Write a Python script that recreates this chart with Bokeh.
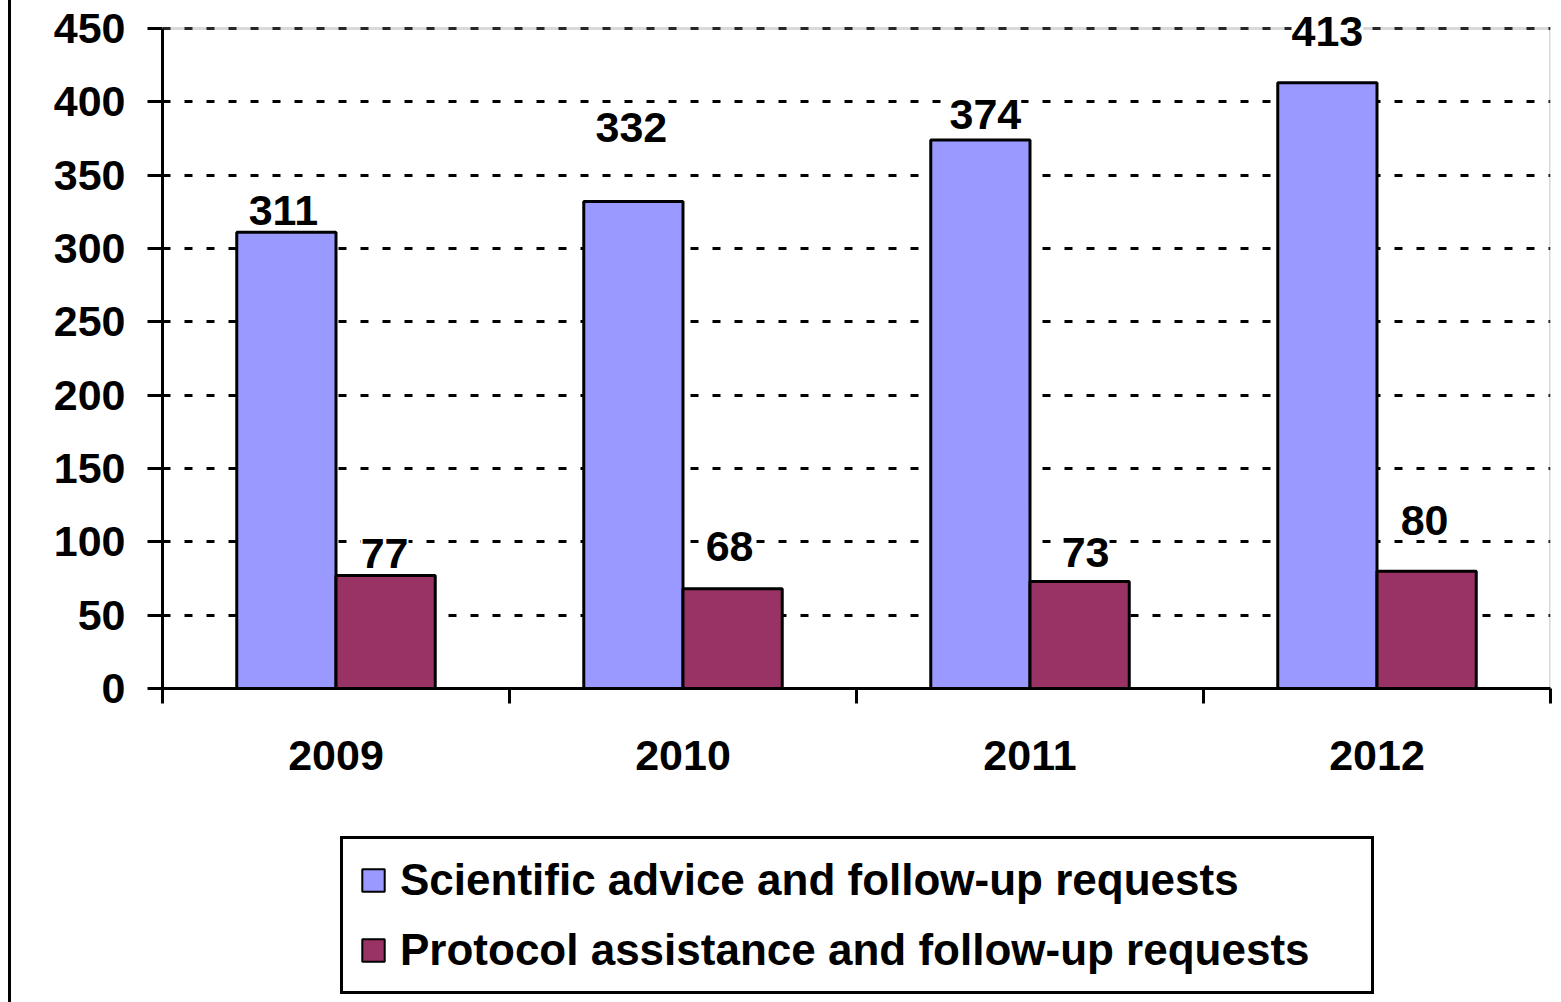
from bokeh.plotting import figure
from bokeh.models import (ColumnDataSource, Range1d, FixedTicker, LabelSet,
                          Legend, LegendItem, Div, BoxAnnotation)
from bokeh.layouts import row, column
from bokeh.transform import dodge
from bokeh.core.properties import value
from bokeh.embed import file_html
from bokeh.resources import INLINE

# ---------------- data ----------------
years = ["2009", "2010", "2011", "2012"]
scientific = [311, 332, 374, 413]
protocol = [77, 68, 73, 80]
series_names = ["Scientific advice and follow-up requests",
                "Protocol assistance and follow-up requests"]
y_ticks = [0, 50, 100, 150, 200, 250, 300, 350, 400, 450]

# label nudges in screen pixels (styling only)
sci_dx = [-3, -2, 5, 0]
sci_dy = [7, 60, 11, 37]
pro_dx = [-1, -3, 6, -2]
pro_dy = [8, 28, 14, 36]

FONT = "Liberation Sans"
BLUE = "#9999FF"
MAROON = "#993366"

# layout (pixels)
EDGE_W = 11
FIG_W = 1561 - EDGE_W
TOTAL_H = 1002
MAIN_H = 800
FRAME_LEFT = 162
FRAME_TOP = 5          # frame top (page px)
AXIS_TOP = 28          # where the top of the value axis sits (page px)
FRAME_BOTTOM = 688

y_max = y_ticks[-1]
y_end = y_max * (FRAME_BOTTOM - FRAME_TOP) / (FRAME_BOTTOM - AXIS_TOP)

centers = [i + 0.5 for i in range(len(years))]
src = ColumnDataSource(dict(
    x=centers, sci=scientific, pro=protocol,
    sci_text=[str(v) for v in scientific], pro_text=[str(v) for v in protocol],
    sci_dx=sci_dx, sci_dy=sci_dy, pro_dx=pro_dx, pro_dy=pro_dy,
))

p = figure(width=FIG_W, height=MAIN_H,
           x_range=Range1d(0, len(years)), y_range=Range1d(0, y_end),
           output_backend="svg", toolbar_location=None,
           min_border_left=FRAME_LEFT - EDGE_W, min_border_right=11,
           min_border_top=FRAME_TOP, min_border_bottom=MAIN_H - FRAME_BOTTOM)

p.background_fill_color = "white"
p.border_fill_color = "white"
p.outline_line_color = None

# plot-area border (grey top/right, under the axes)
plot_box = BoxAnnotation(left=0, right=len(years), bottom=0, top=y_max,
                         fill_alpha=0, line_color="#808080", line_width=3,
                         level="underlay")
p.add_layout(plot_box)

BW = 0.286
colors = [BLUE, MAROON]
value_cols = ["sci", "pro"]
offsets = [-BW / 2, BW / 2]
bars = [p.vbar(x=dodge("x", off), top=col, width=BW, source=src,
               fill_color=c, line_color="black", line_width=3)
        for col, off, c in zip(value_cols, offsets, colors)]

# grid
p.xgrid.visible = False
p.ygrid.ticker = FixedTicker(ticks=y_ticks)
p.ygrid.grid_line_color = "black"
p.ygrid.grid_line_width = 3
p.ygrid.grid_line_dash = "8 14"

# y axis
ya = p.yaxis[0]
ya.ticker = FixedTicker(ticks=y_ticks)
ya.bounds = (0, y_max)
ya.axis_line_color = "black"
ya.axis_line_width = 3
ya.major_tick_out = 15
ya.major_tick_in = 0
ya.major_tick_line_width = 3
ya.minor_tick_line_color = None
ya.major_label_text_font = FONT
ya.major_label_text_font_size = "43px"
ya.major_label_text_font_style = "bold"
ya.major_label_text_color = "black"
ya.major_label_standoff = 22

# x axis
xa = p.xaxis[0]
xa.ticker = FixedTicker(ticks=centers, minor_ticks=list(range(len(years) + 1)))
xa.major_label_overrides = {c: y for c, y in zip(centers, years)}
xa.axis_line_color = "black"
xa.axis_line_width = 3
xa.major_tick_line_color = None
xa.major_tick_out = 0
xa.major_tick_in = 0
xa.minor_tick_out = 15
xa.minor_tick_in = 0
xa.minor_tick_line_width = 3
xa.minor_tick_line_color = "black"
xa.major_label_text_font = FONT
xa.major_label_text_font_size = "43px"
xa.major_label_text_font_style = "bold"
xa.major_label_text_color = "black"
xa.major_label_standoff = 37

# data labels
for col, off, dxc, dyc in [("sci", -BW / 2, "sci_dx", "sci_dy"),
                           ("pro", BW / 2, "pro_dx", "pro_dy")]:
    ls = LabelSet(x=dodge("x", off), y=col, text=col + "_text", source=src,
                  x_offset=dxc, y_offset=dyc,
                  text_align="center", text_baseline="alphabetic",
                  text_font=value(FONT), text_font_size="43px",
                  text_font_style="bold", text_color="black",
                  background_fill_color="white")
    p.add_layout(ls)

# ---------------- legend (own strip below the chart) ----------------
LEG_H = TOTAL_H - MAIN_H
q = figure(width=FIG_W, height=LEG_H, x_range=Range1d(-20, -10), y_range=Range1d(-2, -1),
           x_axis_type=None, y_axis_type=None,
           output_backend="svg", toolbar_location=None,
           min_border=0)
q.outline_line_color = None
q.xgrid.visible = False
q.ygrid.visible = False
q.background_fill_color = "white"
q.border_fill_color = "white"

# hidden proxy renderers that only supply the legend swatches
proxies = [q.vbar(x="x", top=col, width=BW, source=src, fill_color=c,
                  line_color="black", line_width=2, visible=False)
           for col, c in zip(value_cols, colors)]

legend = Legend(items=[LegendItem(label=n, renderers=[r])
                       for n, r in zip(series_names, proxies)],
                location=(340 - FRAME_LEFT, 8), orientation="vertical")
legend.label_text_font = FONT
legend.label_text_font_size = "44px"
legend.label_text_font_style = "bold"
legend.label_text_color = "black"
legend.glyph_width = 28
legend.glyph_height = 28
legend.label_standoff = 13
legend.label_width = 955
legend.label_height = 50
legend.spacing = 20
legend.padding = 16
legend.margin = 0
legend.border_line_color = "black"
legend.border_line_alpha = 1.0
legend.border_line_width = 3
legend.background_fill_color = "white"
legend.background_fill_alpha = 1.0
q.add_layout(legend)

edge = Div(text="", width=EDGE_W, height=TOTAL_H, margin=0,
           styles={"border-right": "3px solid black", "box-sizing": "border-box"})

layout = row(edge, column(p, q, spacing=0), spacing=0)

open("out.html", "w").write(file_html(layout, INLINE))
